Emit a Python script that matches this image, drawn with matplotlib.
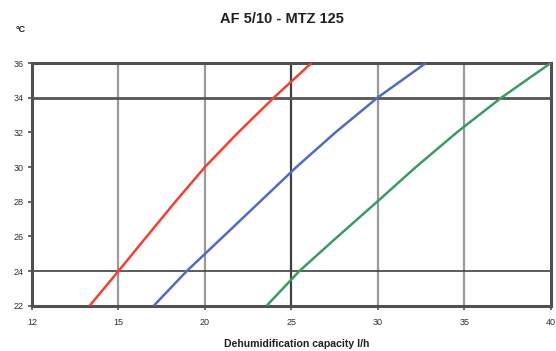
import numpy as np
import matplotlib
matplotlib.use("Agg")
import matplotlib.pyplot as plt

plt.rcParams['font.family'] = ['Liberation Sans', 'DejaVu Sans']

# Data (temperature °C vs. dehumidification capacity l/h)
temps = [22, 24, 26, 28, 30, 32, 34, 36]
red_x = [14.0, 15.0, 16.64, 18.29, 20.0, 21.93, 23.98, 26.16]
blue_x = [17.04, 18.95, 21.07, 23.18, 25.29, 27.55, 29.98, 32.78]
green_x = [23.57, 25.46, 27.69, 29.96, 32.2, 34.57, 37.14, 40.0]

x_ticks = [12, 15, 20, 25, 30, 35, 40]
y_ticks = [22, 24, 26, 28, 30, 32, 34, 36]
x_ticklabels = ['12', '15', '20', '25', '30', '35', '40']

title = "AF 5/10 - MTZ 125"
xlabel = "Dehumidification capacity l/h"
ylabel = "°C"

# Equally spaced tick positions (category-like axis)
pos = np.arange(len(x_ticks), dtype=float)
xt = np.array(x_ticks, dtype=float)

def fwd(v):
    return np.interp(v, xt, pos)

def inv(p):
    return np.interp(p, pos, xt)

fig = plt.figure(figsize=(5.56, 3.51), dpi=100)
ax = fig.add_axes([0.0576, 0.129, 0.933, 0.6915])
ax.set_xscale('function', functions=(fwd, inv))
ax.set_xlim(12, 40)
ax.set_ylim(22, 36)

# Grid lines
for xv in [15, 20, 30, 35]:
    ax.axvline(xv, color='#9a9a9a', lw=1.6, zorder=1)
ax.axvline(25, color='#404040', lw=1.6, zorder=1)
ax.axhline(24, color='#404040', lw=1.2, zorder=1)
ax.axhline(34, color='#555555', lw=2.0, zorder=1)

ax.plot(red_x, temps, color='#f5402c', lw=1.8, zorder=3, solid_capstyle='butt')
ax.plot(blue_x, temps, color='#4f6cc4', lw=1.8, zorder=3, solid_capstyle='butt')
ax.plot(green_x, temps, color='#3c9a64', lw=1.8, zorder=3, solid_capstyle='butt')

for s in ax.spines.values():
    s.set_color('#505050')
    s.set_linewidth(2.2)

ax.set_xticks(x_ticks)
ax.set_xticklabels(x_ticklabels)
ax.set_yticks(y_ticks)
ax.minorticks_off()
ax.tick_params(axis='x', length=3, width=1.2, color='#505050', labelsize=6.5,
               labelcolor='#303030', pad=6)
ax.tick_params(axis='y', length=3, width=1.2, color='#505050', labelsize=6.5,
               labelcolor='#303030', pad=3)

fig.text(0.507, 0.946, title, ha='center', va='center', fontsize=10.5,
         fontweight='bold', color='#202020')
fig.text(0.037, 0.915, ylabel, ha='center', va='center', fontsize=6.5,
         fontweight='bold', color='#202020')
fig.text(0.534, 0.02, xlabel, ha='center', va='center', fontsize=7.6,
         fontweight='bold', color='#202020')

fig.savefig('out.png', dpi=100)
